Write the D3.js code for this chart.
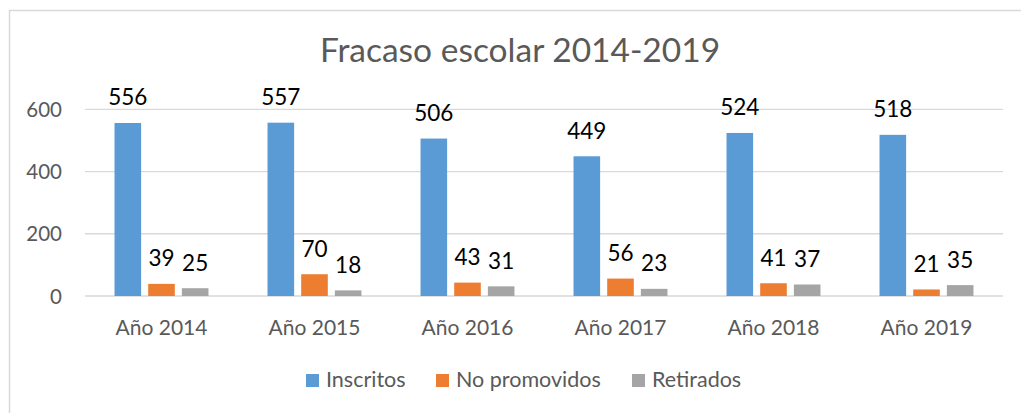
<!DOCTYPE html>
<html><head><meta charset="utf-8">
<script src="https://cdn.jsdelivr.net/npm/d3@7"></script>
<style>html,body{margin:0;padding:0;background:#fff;}svg{display:block;}</style>
</head><body>
<svg id="chart" width="1021" height="413"></svg>
<script>
const title = "Fracaso escolar 2014-2019";
const categories = ["Año 2014","Año 2015","Año 2016","Año 2017","Año 2018","Año 2019"];
const seriesNames = ["Inscritos","No promovidos","Retirados"];
const inscritos = [556,557,506,449,524,518];
const noPromovidos = [39,70,43,56,41,21];
const retirados = [25,18,31,23,37,35];
const yTicks = [0,200,400,600];
const colors = ["#5B9BD5","#ED7D31","#A5A5A5"];

const seriesValues = [inscritos, noPromovidos, retirados];
const font = "Lato, 'Open Sans', sans-serif";
const svg = d3.select("#chart");

svg.append("rect").attr("x",9.5).attr("y",10.5).attr("width",1030).attr("height",420)
  .attr("fill","#fff").attr("stroke","#D9D9D9").attr("stroke-width",1.5);

const x0 = d3.scaleBand().domain(categories).range([85,1003]);
const bw = x0.bandwidth();
const x1 = d3.scaleBand().domain(seriesNames).range([bw*0.193, bw*0.807]).paddingInner(0.21);
const y = d3.scaleLinear().domain([0,600]).range([296,109.3]);

// gridlines
svg.append("g").selectAll("line").data(yTicks).join("line")
  .attr("x1",85).attr("x2",1003)
  .attr("y1",d=>y(d)).attr("y2",d=>y(d))
  .attr("stroke","#D9D9D9").attr("stroke-width",1.3);

// y axis labels
const yAxis = d3.axisLeft(y).tickValues(yTicks).tickSize(0).tickPadding(0);
const ya = svg.append("g").attr("transform","translate(62,0)").call(yAxis);
ya.select(".domain").remove();
ya.selectAll("text").attr("font-family",font).attr("font-size",20.5).attr("fill","#595959").attr("dy","0.35em");

// x axis labels
const xAxis = d3.axisBottom(x0).tickSize(0).tickPadding(0);
const xa = svg.append("g").attr("transform","translate(0,335)").call(xAxis);
xa.select(".domain").remove();
xa.selectAll("text").attr("font-family",font).attr("font-size",21).attr("fill","#595959").attr("dy","0");

// bars
const rows = categories.map((c,i)=>({cat:c, vals: seriesNames.map((s,j)=>({s, j, v: seriesValues[j][i]}))}));
const groups = svg.append("g").selectAll("g").data(rows).join("g")
  .attr("transform",d=>`translate(${x0(d.cat)},0)`);
groups.selectAll("rect").data(d=>d.vals).join("rect")
  .attr("x",d=>x1(d.s)).attr("width",x1.bandwidth())
  .attr("y",d=>y(d.v)).attr("height",d=>y(0)-y(d.v))
  .attr("fill",d=>colors[d.j]);
groups.selectAll("text").data(d=>d.vals).join("text")
  .attr("x",d=>x1(d.s)+x1.bandwidth()/2).attr("y",d=>y(d.v)-17.5)
  .attr("text-anchor","middle").attr("font-family",font).attr("font-size",22.5)
  .attr("fill","#000").text(d=>d.v);

// title
svg.append("text").attr("x",520).attr("y",62).attr("text-anchor","middle")
  .attr("font-family",font).attr("font-size",33.5).attr("fill","#595959").text(title);

// legend
const legendX = [306,436,632];
const lg = svg.append("g").selectAll("g").data(seriesNames).join("g")
  .attr("transform",(d,i)=>`translate(${legendX[i]},0)`);
lg.append("rect").attr("x",0).attr("y",374).attr("width",13).attr("height",13).attr("fill",(d,i)=>colors[i]);
lg.append("text").attr("x",20).attr("y",387).attr("font-family",font).attr("font-size",21.5)
  .attr("fill","#595959").text(d=>d);
</script>
</body></html>
